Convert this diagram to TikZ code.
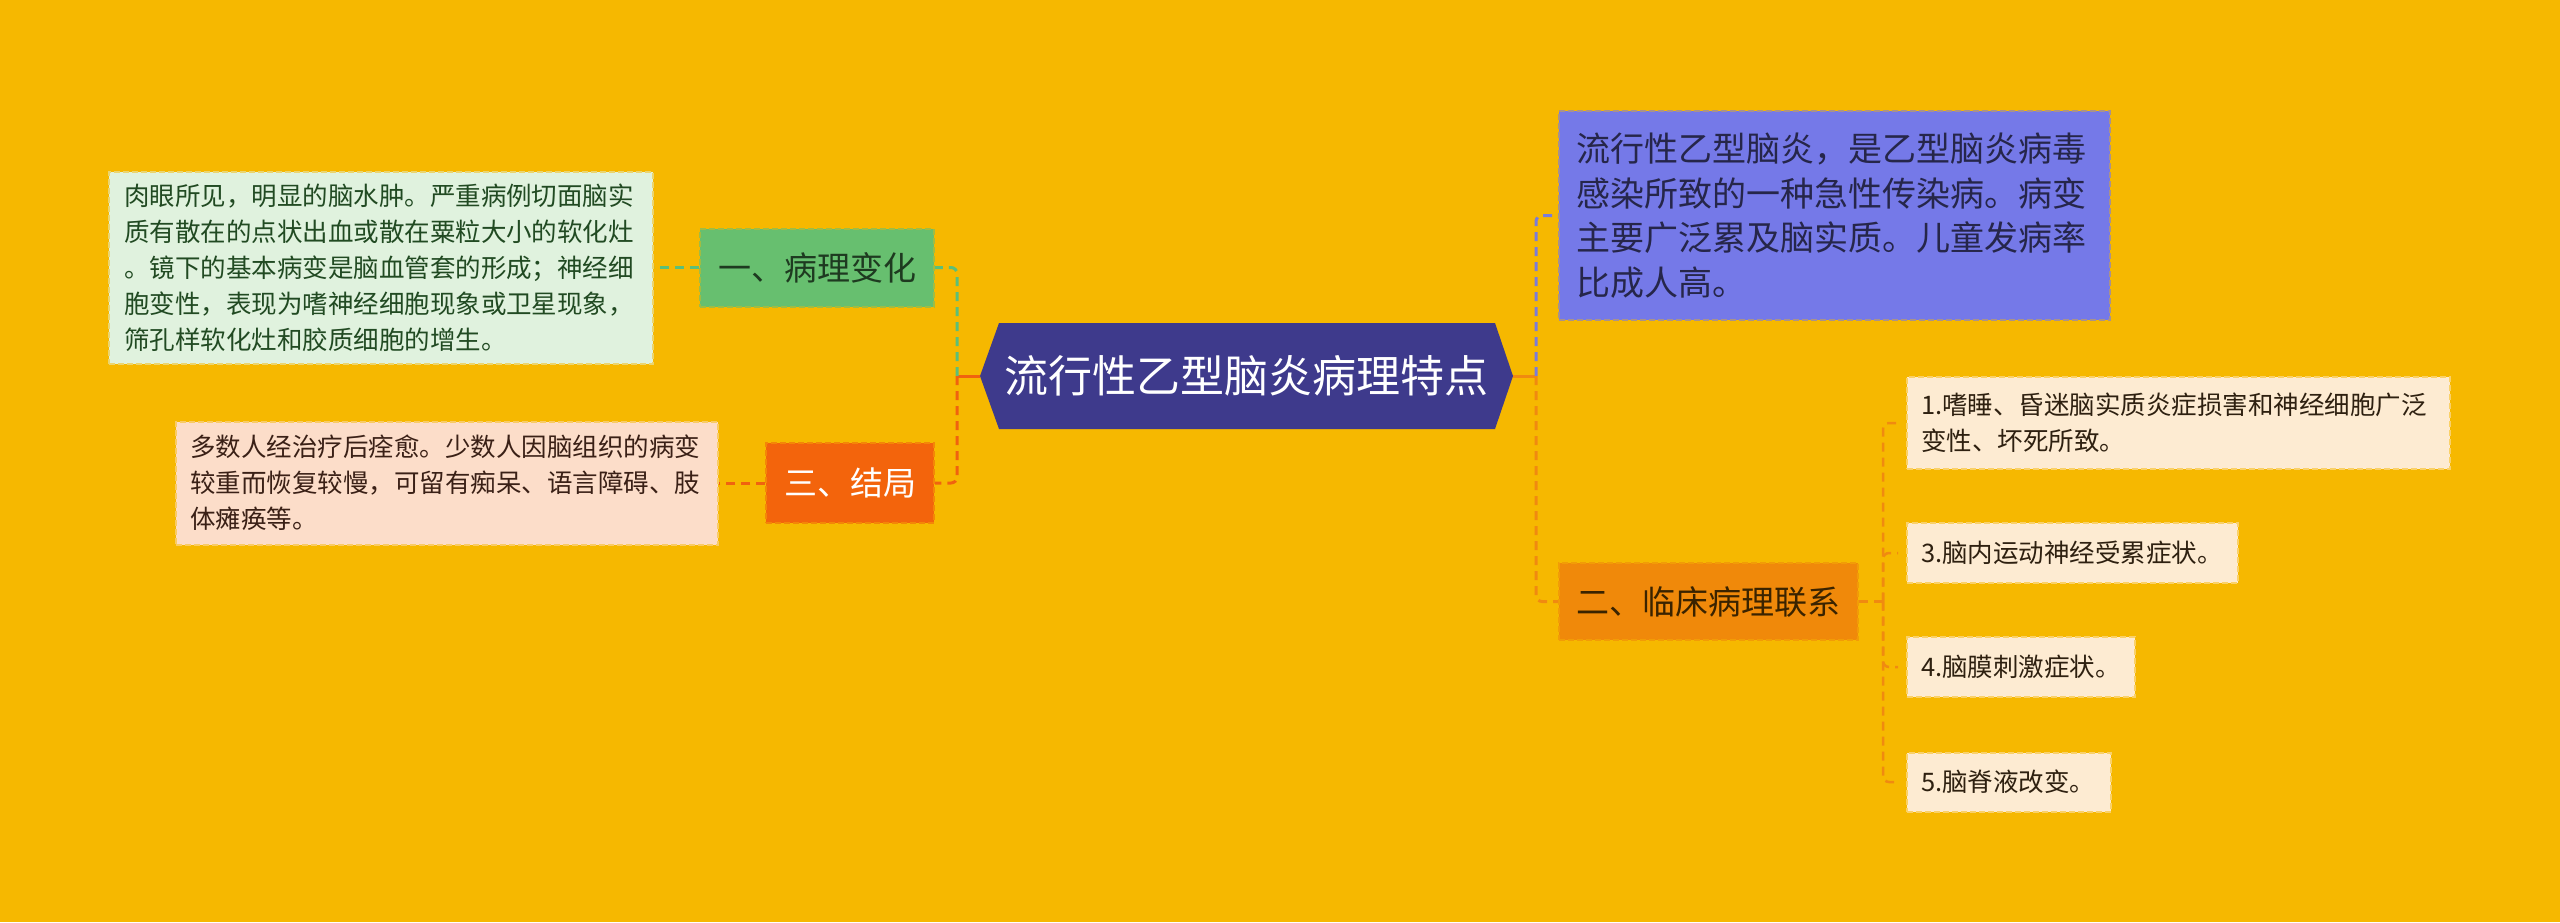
\documentclass[tikz,border=0pt]{standalone}
\usepackage{fontspec}
\setmainfont{Noto Sans CJK SC}
\usetikzlibrary{calc}
\definecolor{bg}{HTML}{F6B800}
\definecolor{cfill}{HTML}{3E3A8C}
\definecolor{gfill}{HTML}{67BF6F}
\definecolor{gtext}{HTML}{1E3A20}
\definecolor{gdfill}{HTML}{E0F2DE}
\definecolor{gdtext}{HTML}{214A22}
\definecolor{rfill}{HTML}{F3640C}
\definecolor{pdfill}{HTML}{FCDDC9}
\definecolor{pdtext}{HTML}{3A2016}
\definecolor{bfill}{HTML}{7579E8}
\definecolor{btext}{HTML}{26264A}
\definecolor{ofill}{HTML}{F0890A}
\definecolor{otext}{HTML}{3A2300}
\definecolor{ifill}{HTML}{FDEBD2}
\definecolor{itext}{HTML}{2E2010}
\definecolor{gline}{HTML}{5CBF78}
\definecolor{rline}{HTML}{F0620F}
\definecolor{bline}{HTML}{7A7CDA}
\definecolor{oline}{HTML}{F08A10}
\tikzset{
  box/.style={rectangle, dash pattern=on 6pt off 3pt, line width=2pt, inner ysep=0pt},
  descbox/.style={box, align=left, font=\fontsize{25.5pt}{36pt}\selectfont},
  catbox/.style={box, align=center, inner xsep=0pt, font=\fontsize{33pt}{40pt}\selectfont},
  conn/.style={line width=3pt, dash pattern=on 9pt off 6pt, rounded corners=6pt},
  stub/.style={line width=3pt},
  iconn/.style={line width=2.5pt, dash pattern=on 9pt off 6pt, rounded corners=6pt, color=oline}
}
\begin{document}
\begin{tikzpicture}[x=1pt,y=-1pt]
\useasboundingbox (0,0) rectangle (2560,922);
\fill[bg] (0,0) rectangle (2560,922);

% centre
\fill[cfill] (980,376) -- (999,323) -- (1495,323) -- (1513,376) -- (1495,429) -- (999,429) -- cycle;
\node[inner sep=0pt, minimum width=533, minimum height=106, text=white,
      font=\fontsize{44pt}{50pt}\selectfont] (c) at (1246.5,376) {流行性乙型脑炎病理特点};

% left side
\node[descbox, fill=gdfill, draw=gdfill!50!bg, text=gdtext, text width=514, inner xsep=15,
      minimum height=192] (gdesc) at (381,267.5)
 {肉眼所见，明显的脑水肿。严重病例切面脑实\\质有散在的点状出血或散在粟粒大小的软化灶\\。镜下的基本病变是脑血管套的形成；神经细\\胞变性，表现为嗜神经细胞现象或卫星现象，\\筛孔样软化灶和胶质细胞的增生。};
\node[catbox, fill=gfill, draw=gfill!60!bg, text=gtext, minimum width=234, minimum height=78]
  (g1) at (817,267.5) {一、病理变化};

\node[descbox, fill=pdfill, draw=pdfill!50!bg, text=pdtext, text width=514, inner xsep=14,
      minimum height=123] (pdesc) at (447,483)
 {多数人经治疗后痊愈。少数人因脑组织的病变\\较重而恢复较慢，可留有痴呆、语言障碍、肢\\体瘫痪等。};
\node[catbox, fill=rfill, draw=rfill!60!bg, text=white, minimum width=168, minimum height=80]
  (p1) at (850,483) {三、结局};

\coordinate (lt) at (957,376);
\draw[stub, rline] (c.west) -- (lt);
\draw[conn, gline] (lt) |- (g1.east);
\draw[conn, rline] (lt) |- (p1.east);
\draw[conn, gline] (g1.west) -- (gdesc.east);
\draw[conn, rline] (p1.west) -- (pdesc.east);

% right side
\node[box, align=left, fill=bfill, draw=bfill!60!bg, text=btext, text width=517, inner xsep=17,
      minimum height=209, font=\fontsize{34pt}{44.5pt}\selectfont] (bdesc) at (1834.5,215.5)
 {流行性乙型脑炎，是乙型脑炎病毒\\感染所致的一种急性传染病。病变\\主要广泛累及脑实质。儿童发病率\\比成人高。};
\node[catbox, fill=ofill, draw=ofill!60!bg, text=otext, minimum width=299, minimum height=77]
  (o2) at (1708.5,601.5) {二、临床病理联系};

\coordinate (rt) at (1536,376);
\draw[stub, oline] (c.east) -- (rt);
\draw[conn, bline] (rt) |- (bdesc.west);
\draw[conn, oline] (rt) |- (o2.west);

\node[descbox, fill=ifill, draw=ifill!50!bg, text=itext, text width=515, inner xsep=14,
      minimum height=92, anchor=west] (i1) at (1906,423)
 {1.嗜睡、昏迷脑实质炎症损害和神经细胞广泛\\变性、坏死所致。};
\node[descbox, fill=ifill, draw=ifill!50!bg, text=itext, text width=303, inner xsep=14,
      minimum height=60, anchor=west] (i3) at (1906,553) {3.脑内运动神经受累症状。};
\node[descbox, fill=ifill, draw=ifill!50!bg, text=itext, text width=200, inner xsep=14,
      minimum height=60, anchor=west] (i4) at (1906,667) {4.脑膜刺激症状。};
\node[descbox, fill=ifill, draw=ifill!50!bg, text=itext, text width=176, inner xsep=14,
      minimum height=59, anchor=west] (i5) at (1906,782) {5.脑脊液改变。};

\coordinate (it) at (1883,601.5);
\draw[iconn] (o2.east) -- (it);
\draw[iconn, shorten >=8pt] (it) |- (i1.west);
\draw[iconn, shorten >=8pt] (it) |- (i3.west);
\draw[iconn, shorten >=8pt] (it) |- (i4.west);
\draw[iconn, shorten >=8pt] (it) |- (i5.west);
\end{tikzpicture}
\end{document}
